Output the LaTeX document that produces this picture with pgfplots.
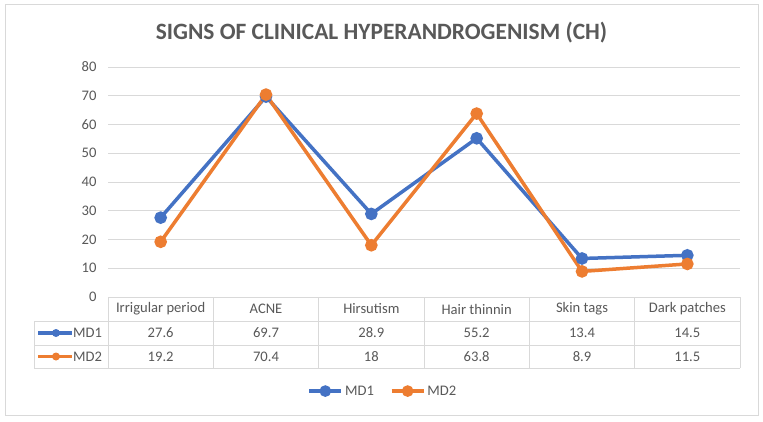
\documentclass[border=0pt]{standalone}
\usepackage{pgfplots}
\pgfplotsset{compat=1.18}
\usepackage{fontspec}
\setmainfont{Carlito}
\definecolor{mdblue}{HTML}{4472C4}
\definecolor{mdorange}{HTML}{ED7D31}
\definecolor{txt}{HTML}{595959}
\definecolor{gridc}{HTML}{D9D9D9}

\begin{document}
\begin{tikzpicture}[x=1bp,y=1bp]
\useasboundingbox (0,0) rectangle (763,421);
\fill[white] (0,0) rectangle (763,421);
\draw[gridc, line width=1bp] (5,6) rectangle (758,416);
\node[text=txt, font=\fontsize{23.4bp}{28bp}\selectfont\bfseries] at (381.5,388) {SIGNS OF CLINICAL HYPERANDROGENISM (CH)};
\begin{axis}[
  at={(108bp,124bp)}, anchor=south west,
  scale only axis, width=632bp, height=230bp,
  xmin=0, xmax=6, ymin=0, ymax=80,
  ytick distance=10, xtick=\empty,
  axis line style={draw=none},
  ymajorgrids, grid style={gridc, line width=1bp},
  major tick length=0pt,
  tick label style={font=\fontsize{14.6bp}{17bp}\selectfont, text=txt},
  yticklabel style={xshift=-8bp},
  /pgf/number format/assume math mode=true,
  clip=false,
  legend style={at={(0.435,-0.409)}, anchor=center, draw=none, fill=none,
    legend columns=2, font=\fontsize{14.6bp}{17bp}\selectfont, text=txt,
    /tikz/every even column/.append style={column sep=14bp}},
  legend image code/.code={\draw[mark repeat=2,mark phase=2,mark size=4bp,#1] plot coordinates {(0bp,0bp) (16bp,0bp) (32bp,0bp)};},
]
\addplot[mdblue, line width=3.5bp, mark=*, mark size=4.5bp] coordinates {(0.5,27.6) (1.5,69.7) (2.5,28.9) (3.5,55.2) (4.5,13.4) (5.5,14.5)};
\addlegendentry{MD1}
\addplot[mdorange, line width=3.5bp, mark=*, mark size=4.5bp] coordinates {(0.5,19.2) (1.5,70.4) (2.5,18) (3.5,63.8) (4.5,8.9) (5.5,11.5)};
\addlegendentry{MD2}
\end{axis}
% data table
\begin{scope}[gridc, line width=1bp]
\draw (108,124) -- (740,124);
\draw (34,100) -- (740,100);
\draw (34,76) -- (740,76);
\draw (34,53) -- (740,53);
\draw (34,100) -- (34,53);
\foreach \k in {0,...,6} {\draw ({108+105.333*\k},124) -- ({108+105.333*\k},53);}
\end{scope}
\begin{scope}[every node/.style={text=txt, font=\fontsize{14.6bp}{17bp}\selectfont}]
\foreach \c [count=\i from 0] in {Irrigular period,ACNE,Hirsutism,Hair thinnin,Skin tags,Dark patches}
  {\node at ({160.67+105.333*\i},112) {\c};}
\foreach \v [count=\i from 0] in {27.6,69.7,28.9,55.2,13.4,14.5}
  {\node at ({160.67+105.333*\i},88) {\v};}
\foreach \v [count=\i from 0] in {19.2,70.4,18,63.8,8.9,11.5}
  {\node at ({160.67+105.333*\i},64.5) {\v};}
\node[anchor=west, inner sep=1bp] at (72,88) {MD1};
\node[anchor=west, inner sep=1bp] at (72,64.5) {MD2};
\end{scope}
\draw[mdblue, line width=3.5bp] (38,88) -- (72,88);
\fill[mdblue] (56,88) circle (4bp);
\draw[mdorange, line width=3.5bp] (38,64.5) -- (72,64.5);
\fill[mdorange] (56,64.5) circle (4bp);
\end{tikzpicture}
\end{document}
